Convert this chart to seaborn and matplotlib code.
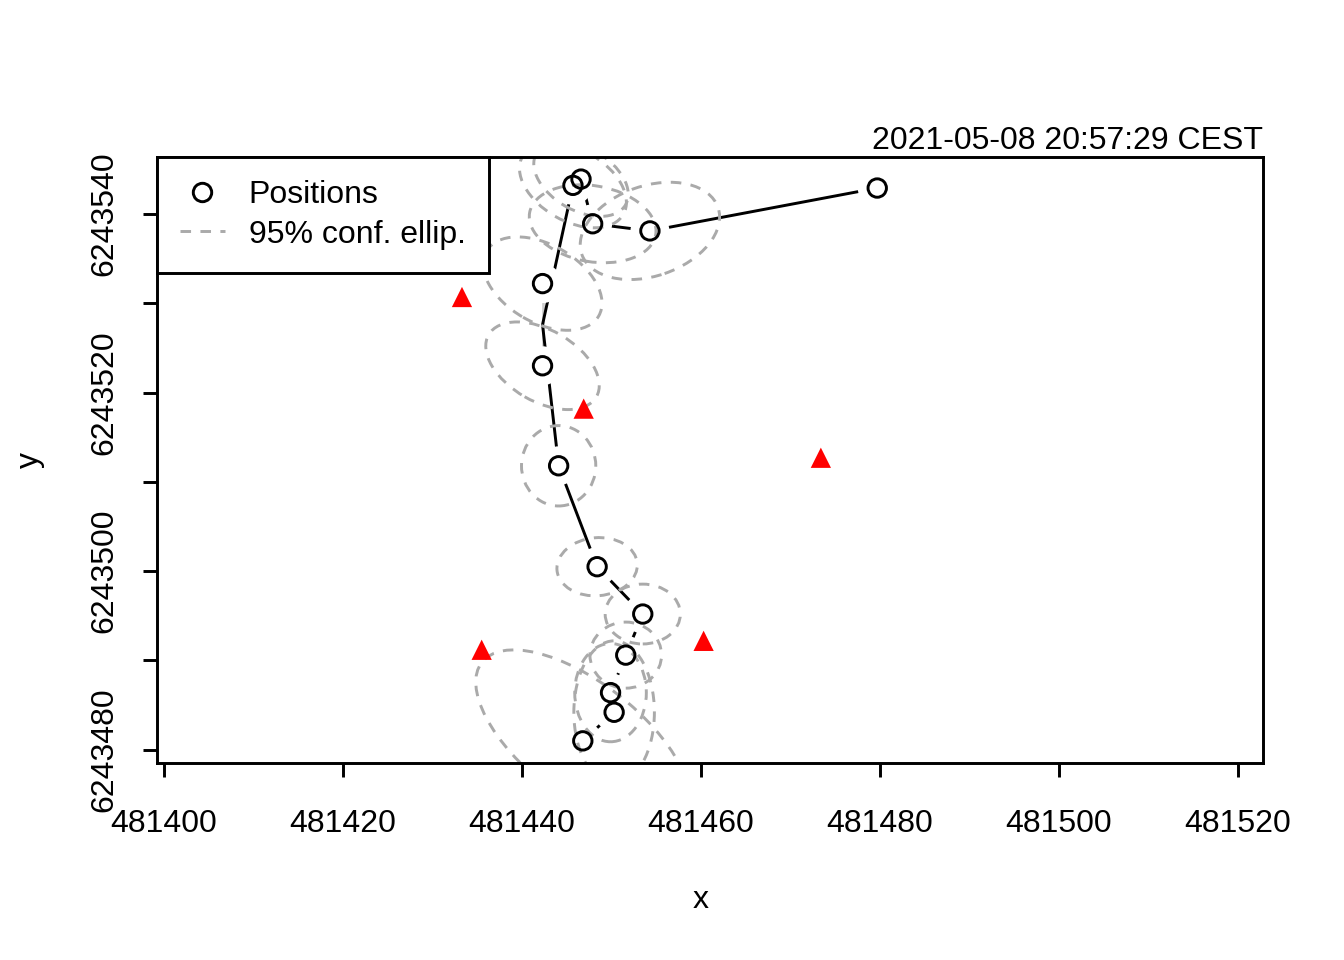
import numpy as np
import pandas as pd
import seaborn as sns
import matplotlib.pyplot as plt
from matplotlib.patches import Ellipse
from matplotlib.lines import Line2D

# estimated positions (in time order)
pos_x = [481446.8, 481450.3, 481449.9, 481451.6, 481453.5, 481448.4, 481444.1,
         481442.3, 481442.3, 481445.7, 481446.6, 481447.9, 481454.3, 481479.7]
pos_y = [6243481.0, 6243484.2, 6243486.4, 6243490.6, 6243495.2, 6243500.5, 6243511.8,
         6243523.0, 6243532.2, 6243543.2, 6243543.9, 6243538.9, 6243538.1, 6243542.9]

# 95% confidence ellipses: full width, full height, angle (deg)
ell_w = [28.6, 9.0, 8.0, 8.0, 8.4, 9.0, 8.3, 13.9, 14.5, 13.0, 11.5, 14.3, 16.1, np.nan]
ell_h = [13.0, 16.0, 11.0, 7.4, 6.7, 6.5, 9.0, 8.0, 8.7, 8.0, 7.0, 8.5, 10.1, np.nan]
ell_a = [-38, 0, 0, 0, 0, 5, 0, -30, -30, -30, -30, -10, 19, np.nan]

# receivers
rec_x = [481433.3, 481446.9, 481473.4, 481460.3, 481435.5]
rec_y = [6243530.7, 6243518.2, 6243512.7, 6243492.2, 6243491.2]

x_ticks = [481400, 481420, 481440, 481460, 481480, 481500, 481520]
y_ticks = [6243480, 6243490, 6243500, 6243510, 6243520, 6243530, 6243540]
stamp = "2021-05-08 20:57:29 CEST"

pos = pd.DataFrame({"x": pos_x, "y": pos_y, "w": ell_w, "h": ell_h, "a": ell_a})
rec = pd.DataFrame({"x": rec_x, "y": rec_y})

sns.set_theme(style="ticks")
plt.rcParams["font.family"] = ["Liberation Sans", "DejaVu Sans"]
plt.rcParams["font.size"] = 12
plt.rcParams["text.color"] = "black"
plt.rcParams["axes.labelcolor"] = "black"

fig = plt.figure(figsize=(7, 5), dpi=192)
ax = fig.add_axes([0.1168, 0.2052, 0.8229, 0.6313])

ell_col = "#AAAAAA"
lw = 1.1

# track line, with white gaps around each point like R type="b"
sns.lineplot(data=pos, x="x", y="y", sort=False, color="black", lw=lw, ax=ax, zorder=2)
ax.scatter(pos["x"], pos["y"], s=14.6 ** 2, color="white", edgecolors="none", zorder=2.5)

for _, r in pos.dropna().iterrows():
    ax.add_patch(Ellipse((r["x"], r["y"]), r["w"], r["h"], angle=r["a"], fill=False,
                         edgecolor=ell_col, lw=lw, linestyle=(0, (3.6, 3.2)), zorder=3))

sns.scatterplot(data=pos, x="x", y="y", marker="o", s=6.9 ** 2, facecolor="none",
                edgecolor="black", linewidth=lw, ax=ax, zorder=4)
sns.scatterplot(data=rec, x="x", y="y", marker="^", s=7.6 ** 2, color="red",
                edgecolor="none", ax=ax, zorder=5)

ax.set_xlim(481399.22, 481522.8)
ax.set_ylim(6243478.52, 6243546.38)
ax.set_xticks(x_ticks)
ax.set_xticklabels([str(v) for v in x_ticks])
ax.set_yticks(y_ticks)
ax.set_yticklabels([str(v) if v % 20 == 0 else "" for v in y_ticks])
ax.tick_params(axis="both", direction="out", length=5.25, width=lw, color="black",
               labelsize=12, labelcolor="black")
ax.tick_params(axis="x", pad=12)
ax.tick_params(axis="y", pad=9, labelrotation=90)
for lab in ax.get_yticklabels():
    lab.set_va("center")

for sp in ax.spines.values():
    sp.set_visible(True)
    sp.set_color("black")
    sp.set_linewidth(lw)
    sp.set_zorder(6)

ax.set_xlabel("x", fontsize=12, va="center", color="black")
ax.xaxis.set_label_coords(0.4915, -0.226)
ax.set_ylabel("y", fontsize=12, va="center", color="black")
ax.yaxis.set_label_coords(-0.115, 0.5)
ax.set_title(stamp, loc="right", fontsize=12, pad=3, color="black")

handles = [
    Line2D([], [], marker="o", ls="none", markersize=6.9, markerfacecolor="none",
           markeredgecolor="black", markeredgewidth=lw),
    Line2D([], [], color=ell_col, lw=lw, ls=(0, (3.6, 3.2))),
]
leg = ax.legend(handles, ["Positions", "95% conf. ellip."], loc="upper left",
                borderaxespad=0, fancybox=False, framealpha=1, edgecolor="black",
                handlelength=1.4, handletextpad=0.75, borderpad=0.72, labelspacing=0.3,
                fontsize=12)
leg.get_frame().set_linewidth(lw)
for t in leg.get_texts():
    t.set_color("black")
leg.set_zorder(10)

fig.savefig("out.png", dpi=192, facecolor="white")
